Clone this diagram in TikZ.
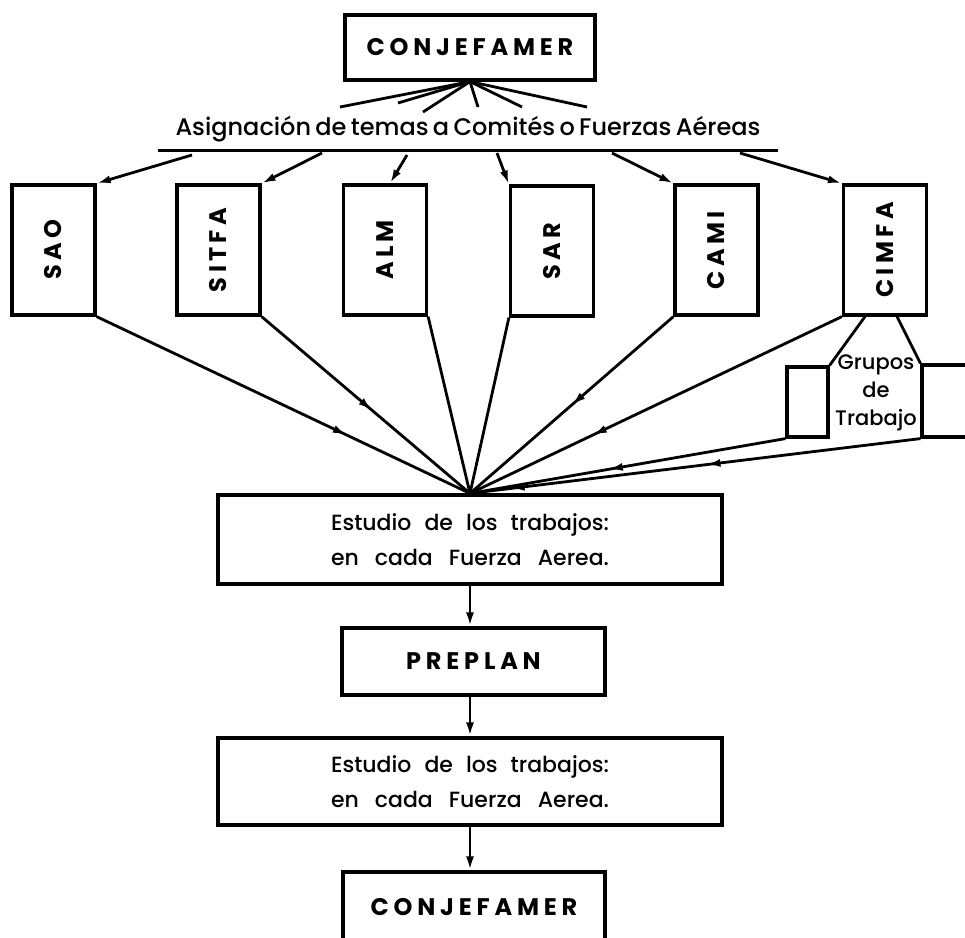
\documentclass[tikz,border=0pt]{standalone}
\usepackage{fontspec}
\setmainfont{Poppins Medium}
\usetikzlibrary{arrows.meta,decorations.markings}
\newfontfamily\boxfam[LetterSpace=20]{Poppins}
\newfontfamily\vfam[LetterSpace=18]{Poppins}
\newcommand\boxfont{\boxfam\bfseries\fontsize{24}{24}\selectfont}
\newcommand\vertfont{\vfam\bfseries\fontsize{24}{24}\selectfont}
\newcommand\asigfont{\fontsize{24}{24}\selectfont}
\newcommand\stline[1]{\makebox[278pt][s]{#1}}
\begin{document}
\begin{tikzpicture}[x=1pt,y=-1pt,
  box/.style={draw, line width=3.2pt, inner sep=0pt},
  conn/.style={line width=2.8pt},
  tip/.style={-{Latex[length=14pt,width=8pt]}},
  midarrow/.style={postaction={decorate, decoration={markings,
      mark=at position #1 with {\arrow{Latex[length=14pt,width=8pt]}}}}},
  vbox/.style={box, minimum width=83pt, minimum height=130pt},
  ebox/.style={box, minimum width=504pt, align=center, font=\fontsize{22}{35}\selectfont}
]
\useasboundingbox (0,0) rectangle (965,937);
\clip (0,0) rectangle (965,937);

% top box and assignment line
\node[box, minimum width=250pt, minimum height=65pt] (top) at (470,47.5) {\boxfont CONJEFAMER};
\node[inner sep=0pt, anchor=base] (asig) at (468,135)
  {\asigfont\makebox[585pt][s]{Asignación de temas a Comités o Fuerzas Aéreas}};
\coordinate (ul1) at (158,150);
\coordinate (ul2) at (778,150);
\draw[line width=3pt] (ul1) -- (ul2);

% fan lines
\coordinate (f1) at (340,107);
\coordinate (f2) at (398,103);
\coordinate (f3) at (423,112);
\coordinate (f4) at (478,107);
\coordinate (f5) at (522,107);
\coordinate (f6) at (587,107);
\foreach \f in {f1,f2,f3,f4,f5,f6} \draw[conn] (top.south) -- (\f);

% committee boxes
\node[vbox] (sao)   at (53.5,250)  {\rotatebox{90}{\vertfont SAO}};
\node[vbox] (sitfa) at (218.5,250) {\rotatebox{90}{\vertfont SITFA}};
\node[vbox] (alm)   at (385,250)   {\rotatebox{90}{\vertfont ALM}};
\node[vbox] (sar)   at (552,251)   {\rotatebox{90}{\vertfont SAR}};
\node[vbox] (cami)  at (716.5,250) {\rotatebox{90}{\vertfont CAMI}};
\node[vbox] (cimfa) at (885,250)   {\rotatebox{90}{\vertfont CIMFA}};

% arrows from the line to the boxes
\coordinate (a1) at (192,155);
\coordinate (a2) at (322,153);
\coordinate (a3) at (407,155);
\coordinate (a4) at (497,153);
\coordinate (a5) at (612,153);
\coordinate (a6) at (740,153);
\draw[conn,tip] (a1) -- (sao.north east);
\draw[conn,tip] (a2) -- (sitfa.north east);
\draw[conn,tip] (a3) -- ([xshift=5pt]alm.north);
\draw[conn,tip] (a4) -- (sar.north west);
\draw[conn,tip] (a5) -- (cami.north west);
\draw[conn,tip] (a6) -- (cimfa.north west);

% working groups
\node[box, minimum width=41pt, minimum height=70pt] (gl) at (807.5,402) {};
\node[box, minimum width=63pt, minimum height=72pt] (gr) at (953.5,401) {};
\node[inner sep=0pt, align=center, font=\fontsize{21}{28}\selectfont] (grupos) at (876,393) {Grupos\\de\\Trabajo};
\draw[conn] ([xshift=-20pt]cimfa.south) -- (gl.north east);
\draw[conn] ([xshift=12pt]cimfa.south) -- (gr.north west);

% study box
\node[ebox, minimum height=89pt] (e1) at (470,539.5)
  {\stline{Estudio de los trabajos:}\\\stline{en cada Fuerza Aerea.}};

% converging lines
\draw[conn, midarrow=0.67] (sao.south east) -- (e1.north);
\draw[conn, midarrow=0.53] (sitfa.south east) -- (e1.north);
\draw[conn] (alm.south east) -- (e1.north);
\draw[conn] (sar.south west) -- (e1.north);
\draw[conn, midarrow=0.5] (cami.south west) -- (e1.north);
\draw[conn, midarrow=0.67] (cimfa.south west) -- (e1.north);
\draw[conn, midarrow=0.56] (gl.south west) -- (e1.north);
\draw[conn, midarrow=0.475, midarrow=0.91] (gr.south west) -- (e1.north);

% lower chain
\node[box, minimum width=263pt, minimum height=67pt] (preplan) at (473.5,661.5) {\boxfont PREPLAN};
\node[ebox, minimum height=87pt] (e2) at (470,781.5)
  {\stline{Estudio de los trabajos:}\\\stline{en cada Fuerza Aerea.}};
\node[box, minimum width=262pt, minimum height=71pt] (bot) at (474,907.5) {\boxfont CONJEFAMER};

\draw[conn,tip] (e1.south) -- (e1.south |- preplan.north);
\draw[conn,tip] (e1.south |- preplan.south) -- (e2.north);
\draw[conn,tip] (e2.south) -- (e2.south |- bot.north);
\end{tikzpicture}
\end{document}
